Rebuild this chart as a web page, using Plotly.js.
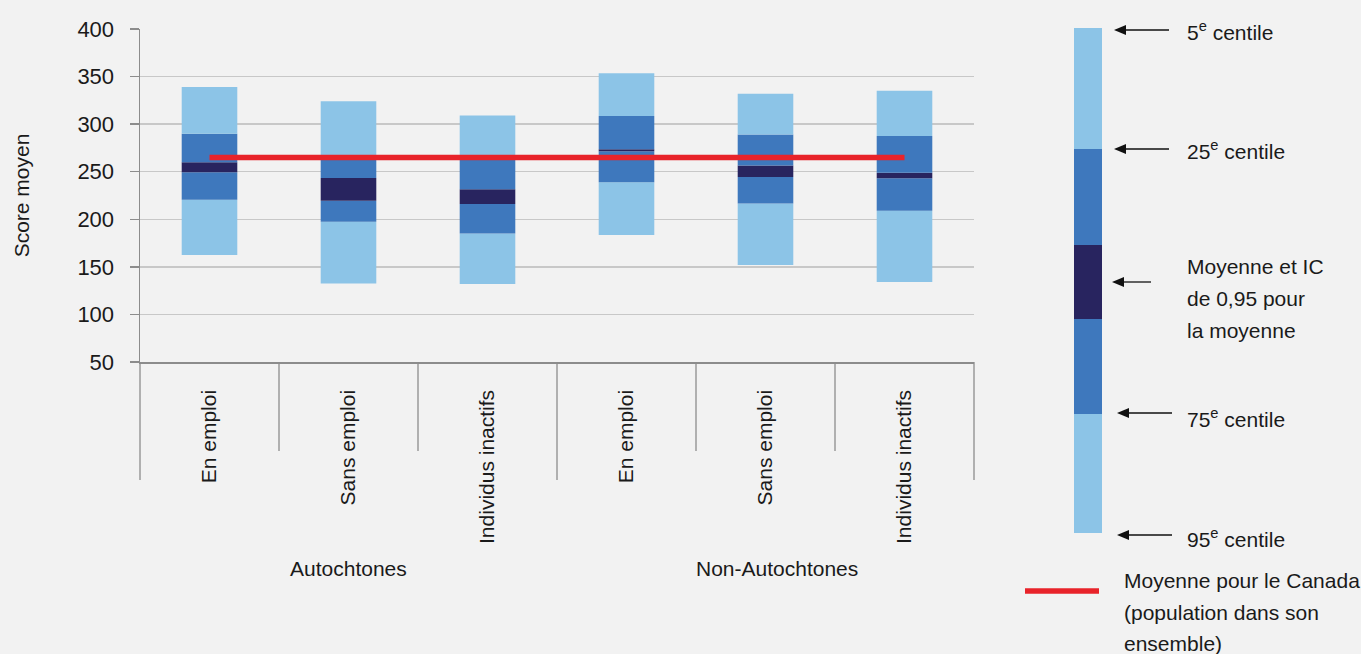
<!DOCTYPE html>
<html>
<head>
<meta charset="utf-8">
<script src="https://cdn.plot.ly/plotly-3.0.1.min.js"></script>
<style>
  html, body { margin: 0; padding: 0; background: #f2f2f2; }
  #chart { width: 1361px; height: 654px; }
</style>
</head>
<body>
<div id="chart"></div>
<script>
// ---- data ----
const groups      = ["Autochtones", "Autochtones", "Autochtones", "Non-Autochtones", "Non-Autochtones", "Non-Autochtones"];
const subcats     = ["En emploi", "Sans emploi", "Individus inactifs", "En emploi", "Sans emploi", "Individus inactifs"];
const groupLabels = ["Autochtones", "Non-Autochtones"];
const p05    = [162.5, 132.5, 132.0, 183.5, 152.0, 134.0];
const p25    = [220.5, 197.5, 185.0, 239.0, 216.5, 209.0];
const ciLow  = [249.5, 219.5, 216.0, 271.5, 244.5, 243.0];
const ciHigh = [260.0, 243.5, 231.5, 273.5, 256.5, 249.0];
const p75    = [290.0, 267.0, 267.0, 308.5, 289.0, 287.5];
const p95    = [339.0, 324.0, 309.0, 353.5, 332.0, 335.0];
const canadaMean = 265;
const yTicks = [50, 100, 150, 200, 250, 300, 350, 400];

const legendLabels = ["5<sup>e</sup> centile", "25<sup>e</sup> centile", "Moyenne et IC", "de 0,95 pour", "la moyenne", "75<sup>e</sup> centile", "95<sup>e</sup> centile"];
const canadaLabelLines = ["Moyenne pour le Canada", "(population dans son", "ensemble)"];

// ---- styles ----
const LIGHT = "#8cc4e7", MID = "#3e78bd", NAVY = "#28245f", RED = "#e8232a";
const TXT = "#1a1a1a";
const FONT = "Liberation Sans, Arial, Helvetica, sans-serif";

const xIdx = subcats.map((_, i) => i);
const diff = (a, b) => a.map((v, i) => b[i] - v);

function seg(lo, hi, color, name) {
  return {
    type: "bar", x: xIdx, base: lo, y: diff(lo, hi), width: 0.4,
    marker: { color: color, line: { width: 0 } },
    name: name, showlegend: false, hoverinfo: "skip"
  };
}

const traces = [
  seg(p05, p25, LIGHT, "5e-25e"),
  seg(p25, ciLow, MID, "25e-IC"),
  seg(ciLow, ciHigh, NAVY, "IC 0,95"),
  seg(ciHigh, p75, MID, "IC-75e"),
  seg(p75, p95, LIGHT, "75e-95e"),
  {
    type: "scatter", mode: "lines",
    x: [xIdx[0], xIdx[xIdx.length - 1]],
    y: [canadaMean, canadaMean],
    line: { color: RED, width: 5.5 },
    showlegend: false, hoverinfo: "skip"
  }
];

// plot area: x 140..974, y 29..362
const L = 140, R = 974, T = 29, B = 362, W = 1361, H = 654;
const px = v => (v - L) / (R - L);
const py = v => (B - v) / (B - T);

const shapes = [];
// category dividers below the axis
const nCat = subcats.length;
for (let k = 0; k <= nCat; k++) {
  const isGroupEdge = (k === 0 || k === nCat || groups[k] !== groups[k - 1]);
  shapes.push({
    type: "line", xref: "paper", yref: "paper",
    x0: k / nCat, x1: k / nCat, y0: 0, y1: py(isGroupEdge ? 480 : 451),
    line: { color: "#8c8c8c", width: 1.3 }, layer: "above"
  });
}
// legend key bar
const keyEdges = [28, 149, 245, 319, 414, 533];
const keyColors = [LIGHT, MID, NAVY, MID, LIGHT];
for (let i = 0; i < keyColors.length; i++) {
  shapes.push({
    type: "rect", xref: "paper", yref: "paper",
    x0: px(1074), x1: px(1102), y0: py(keyEdges[i + 1]), y1: py(keyEdges[i]),
    fillcolor: keyColors[i], line: { width: 0 }
  });
}
// legend arrows (line + filled head)
const arrows = [[1114, 1169, 30], [1114, 1169, 149], [1112, 1151, 282], [1117, 1172, 413], [1117, 1172, 535]];
arrows.forEach(a => {
  const tip = a[0], tail = a[1], y = a[2];
  shapes.push({
    type: "line", xref: "paper", yref: "paper",
    x0: px(tip + 8), x1: px(tail), y0: py(y), y1: py(y),
    line: { color: "#111", width: 1.3 }
  });
  shapes.push({
    type: "path", xref: "paper", yref: "paper",
    path: `M ${px(tip)} ${py(y)} L ${px(tip + 12)} ${py(y - 5)} L ${px(tip + 12)} ${py(y + 5)} Z`,
    fillcolor: "#111", line: { width: 0 }
  });
});
// red legend line
shapes.push({
  type: "line", xref: "paper", yref: "paper",
  x0: px(1025), x1: px(1099), y0: py(591), y1: py(591),
  line: { color: RED, width: 5.5 }
});

const annotations = [];
// group labels
annotations.push({
  xref: "x", yref: "paper", x: 1, y: py(568), text: groupLabels[0], showarrow: false,
  font: { family: FONT, size: 21, color: TXT }, xanchor: "center", yanchor: "middle"
});
annotations.push({
  xref: "x", yref: "paper", x: 4.08, y: py(568), text: groupLabels[1], showarrow: false,
  font: { family: FONT, size: 21, color: TXT }, xanchor: "center", yanchor: "middle"
});
// legend texts
const legendY = [31, 150, 266, 298, 330, 418, 538];
legendLabels.forEach((t, i) => {
  annotations.push({
    xref: "paper", yref: "paper", x: px(1185), y: py(legendY[i]), text: t,
    showarrow: false, xanchor: "left", yanchor: "middle",
    font: { family: FONT, size: 21, color: TXT }
  });
});
const canadaY = [580, 612, 643];
canadaLabelLines.forEach((t, i) => {
  annotations.push({
    xref: "paper", yref: "paper", x: px(1122), y: py(canadaY[i]), text: t,
    showarrow: false, xanchor: "left", yanchor: "middle",
    font: { family: FONT, size: 21, color: TXT }
  });
});

const layout = {
  width: W, height: H,
  margin: { l: L, r: W - R, t: T, b: H - B, pad: 0 },
  paper_bgcolor: "#f2f2f2", plot_bgcolor: "#f2f2f2",
  barmode: "overlay",
  showlegend: false,
  xaxis: {
    range: [-0.5, nCat - 0.5], tickmode: "array", tickvals: xIdx, ticktext: subcats,
    tickangle: -90, tickfont: { family: FONT, size: 21, color: TXT },
    ticks: "", showgrid: false, zeroline: false,
    showline: true, linecolor: "#8c8c8c", linewidth: 1.5,
    ticklabelstandoff: 18, fixedrange: true
  },
  yaxis: {
    range: [50, 400], tickmode: "array", tickvals: yTicks,
    tickfont: { family: FONT, size: 22, color: TXT },
    ticks: "outside", ticklen: 9, tickcolor: "#8c8c8c", tickwidth: 1.3,
    showgrid: true, gridcolor: "#c8c8c8", gridwidth: 1.3, zeroline: false,
    showline: true, linecolor: "#8c8c8c", linewidth: 1.5,
    ticklabelstandoff: 11,
    title: { text: "Score moyen", font: { family: FONT, size: 21, color: TXT }, standoff: 42 },
    fixedrange: true
  },
  shapes: shapes,
  annotations: annotations
};

Plotly.newPlot("chart", traces, layout, { displayModeBar: false, staticPlot: true });
</script>
</body>
</html>
